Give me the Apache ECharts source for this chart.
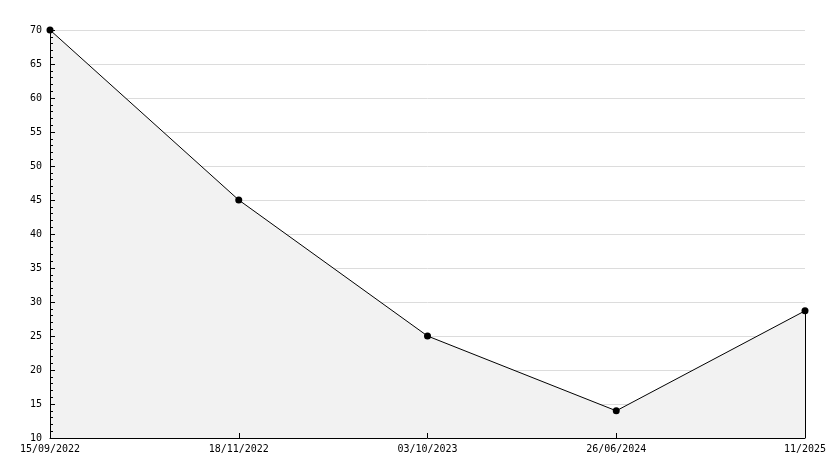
<!DOCTYPE html>
<html>
<head>
<meta charset="utf-8">
<script src="https://cdn.jsdelivr.net/npm/echarts@6/dist/echarts.min.js"></script>
<style>
  html, body { margin: 0; padding: 0; background: #fff; }
  #chart { width: 834px; height: 468px; }
</style>
</head>
<body>
<div id="chart"></div>
<script>
// dates and values
var dates = ['15/09/2022', '18/11/2022', '03/10/2023', '26/06/2024', '11/2025']
var values = [70, 45, 25, 14, 28.7]
var yTicks = { min: 10, max: 70, step: 5 }

var lastDate = dates[dates.length - 1]
var lastValue = values[values.length - 1]

var chart = echarts.init(document.getElementById('chart'))

// the tick marks sit on top of the filled area, the grid lines under it,
// so the ticks get their own copy of each axis with a higher z
var option = {
    animation: false,
    backgroundColor: '#fff',
    textStyle: { fontFamily: 'DejaVu Sans Mono' },
    grid: { left: 50, right: 29, top: 30, bottom: 30 },
    xAxis: [
        {
            type: 'category',
            data: dates,
            boundaryGap: false,
            axisLine: { show: false },
            axisTick: { show: false },
            axisLabel: { color: '#000', fontSize: 10, margin: 6, interval: 0 },
            splitLine: { show: false }
        },
        {
            type: 'category',
            data: dates,
            boundaryGap: false,
            position: 'bottom',
            z: 10,
            axisLine: { show: true, lineStyle: { color: '#000', width: 1 } },
            axisTick: { show: true, inside: true, length: 5, interval: 0, lineStyle: { color: '#000' } },
            axisLabel: { show: false },
            splitLine: { show: false }
        }
    ],
    yAxis: [
        {
            type: 'value',
            min: yTicks.min,
            max: yTicks.max,
            interval: yTicks.step,
            axisLine: { show: false },
            axisTick: { show: false },
            axisLabel: { color: '#000', fontSize: 10, margin: 8 },
            splitLine: { show: true, lineStyle: { color: '#dcdcdc', width: 1 } }
        },
        {
            type: 'value',
            min: yTicks.min,
            max: yTicks.max,
            interval: yTicks.step,
            position: 'left',
            z: 10,
            axisLine: { show: true, lineStyle: { color: '#000', width: 1 } },
            axisTick: { show: true, inside: true, length: 5, lineStyle: { color: '#000' } },
            minorTick: { show: true, splitNumber: 5, length: 3, lineStyle: { color: '#000' } },
            axisLabel: { show: false },
            splitLine: { show: false }
        }
    ],
    series: [
        {
            type: 'line',
            data: values,
            symbol: 'circle',
            symbolSize: 7,
            itemStyle: { color: '#000' },
            lineStyle: { color: '#000', width: 1 },
            areaStyle: { color: '#f2f2f2', opacity: 1, origin: 'start' },
            markLine: {
                silent: true,
                symbol: ['none', 'none'],
                label: { show: false },
                lineStyle: { color: '#000', width: 1, type: 'solid' },
                data: [
                    [
                        { coord: [lastDate, yTicks.min] },
                        { coord: [lastDate, lastValue] }
                    ]
                ]
            }
        }
    ]
}

chart.setOption(option)
</script>
</body>
</html>
